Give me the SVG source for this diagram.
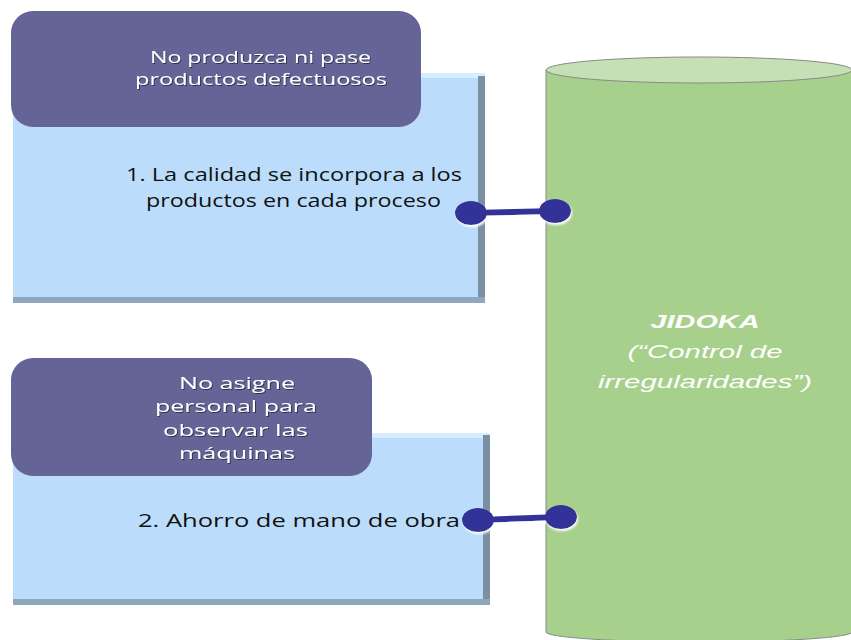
<svg xmlns="http://www.w3.org/2000/svg" width="851" height="640" viewBox="0 0 851 640">
<defs>
<filter id="ts" x="-10%" y="-10%" width="120%" height="130%"><feDropShadow dx="1" dy="1" stdDeviation="0.6" flood-color="#000" flood-opacity="0.5"/></filter>
<filter id="ds" x="-10%" y="-10%" width="130%" height="130%"><feDropShadow dx="1" dy="2" stdDeviation="1" flood-color="#fff" flood-opacity="1"/></filter>
</defs>
<style>
.blue{fill:#bbddfb}
.bev{fill:#7b8fa3}
.bevb{fill:#8fa6bd}
.bevl{fill:#d6ecff}
.purple{fill:#656496}
.pt{font-family:"Open Sans","Liberation Sans",sans-serif;font-size:17px;fill:#fff;text-anchor:middle}
.pt2{font-size:15.5px}
.bt{font-family:"Open Sans","Liberation Sans",sans-serif;font-size:19px;fill:#111;text-anchor:middle}
.jt{font-family:"Liberation Sans",Arial,sans-serif;font-size:18px;fill:#fff;text-anchor:middle;font-style:italic}
.dot{fill:#333399}
.ln{stroke:#333399;stroke-width:6;fill:none}
</style>
<rect width="851" height="640" fill="#fff"/>
<g id="cyl">
<path d="M546 70 L546 632 A153 10 0 0 0 852 632 L852 70 Z" fill="#a8d08d" stroke="#8a8a8a" stroke-width="1"/>
<ellipse cx="699" cy="70" rx="153" ry="13" fill="#c5e0b4" stroke="#8a8a8a" stroke-width="1"/>
<text class="jt" x="705" y="328" font-weight="bold" textLength="109" lengthAdjust="spacingAndGlyphs">JIDOKA</text>
<text class="jt" x="705" y="358" textLength="155" lengthAdjust="spacingAndGlyphs">(“Control de</text>
<text class="jt" x="705" y="388" textLength="214" lengthAdjust="spacingAndGlyphs">irregularidades”)</text>
</g>
<g id="box1">
<rect class="blue" x="13" y="73" width="472" height="230"/>
<rect class="bevl" x="13" y="73" width="472" height="5"/>
<rect class="bev" x="478" y="76" width="7" height="227"/>
<rect class="bevb" x="13" y="297" width="472" height="6"/>
<text class="bt" x="294" y="181" textLength="336" lengthAdjust="spacingAndGlyphs">1. La calidad se incorpora a los</text>
<text class="bt" x="293.5" y="207" textLength="295" lengthAdjust="spacingAndGlyphs">productos en cada proceso</text>
</g>
<g id="head1">
<rect class="purple" x="11" y="11" width="410" height="116" rx="22"/>
<text class="pt pt2" x="260.5" y="63" filter="url(#ts)" textLength="221" lengthAdjust="spacingAndGlyphs">No produzca ni pase</text>
<text class="pt pt2" x="261" y="85" filter="url(#ts)" textLength="252" lengthAdjust="spacingAndGlyphs">productos defectuosos</text>
</g>
<g id="box2">
<rect class="blue" x="13" y="433" width="477" height="172"/>
<rect class="bevl" x="13" y="433" width="477" height="5"/>
<rect class="bev" x="483" y="435" width="7" height="170"/>
<rect class="bevb" x="13" y="599" width="477" height="6"/>
<text class="bt" x="299" y="527" textLength="322" lengthAdjust="spacingAndGlyphs">2. Ahorro de mano de obra</text>
</g>
<g id="head2">
<rect class="purple" x="11" y="358" width="361" height="118" rx="22"/>
<text class="pt" x="237" y="389" filter="url(#ts)" textLength="116" lengthAdjust="spacingAndGlyphs">No asigne</text>
<text class="pt" x="236" y="412" filter="url(#ts)" textLength="162" lengthAdjust="spacingAndGlyphs">personal para</text>
<text class="pt" x="235.5" y="436" filter="url(#ts)" textLength="145" lengthAdjust="spacingAndGlyphs">observar las</text>
<text class="pt" x="237" y="459" filter="url(#ts)" textLength="116" lengthAdjust="spacingAndGlyphs">máquinas</text>
</g>
<g id="connectors">
<g filter="url(#ds)">
<line class="ln" x1="471" y1="213" x2="555" y2="211"/>
<ellipse class="dot" cx="471" cy="213" rx="16" ry="12"/>
<ellipse class="dot" cx="555" cy="211" rx="16" ry="12"/>
</g>
<g filter="url(#ds)">
<line class="ln" x1="478" y1="520" x2="561" y2="517"/>
<ellipse class="dot" cx="478" cy="520" rx="16" ry="12"/>
<ellipse class="dot" cx="561" cy="517" rx="16" ry="12"/>
</g>
</g>
</svg>
